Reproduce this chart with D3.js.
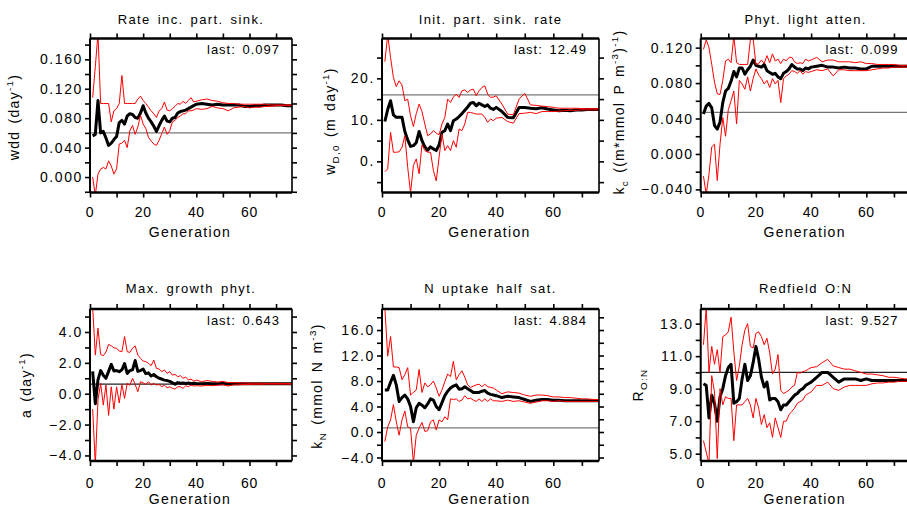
<!DOCTYPE html>
<html>
<head>
<meta charset="utf-8">
<script src="https://cdn.jsdelivr.net/npm/d3@7"></script>
<style>
  body { margin: 0; background: #fff; }
  svg text { font-family: "Liberation Sans", Arial, sans-serif; fill: #000; }
  .title { font-size: 13px; letter-spacing: 1.4px; word-spacing: 2px; }
  .tick-label { font-size: 14px; letter-spacing: 1.6px; }
  .x-label { font-size: 14px; letter-spacing: 0.6px; }
  .axis-title { font-size: 14px; letter-spacing: 1.3px; word-spacing: 2px; }
  .last { font-size: 13px; letter-spacing: 1px; word-spacing: 2px; }
</style>
</head>
<body>
<svg id="chart" width="907" height="508"></svg>
<script>
// Generations (every generation early on, every other later)
const generations = [1,2,3,4,5,6,7,8,9,10,11,12,13,14,15,16,17,18,19,20,
  21,22,23,24,25,26,27,28,29,30,31,32,33,34,35,36,37,38,39,40,
  42,44,46,48,50,52,54,56,58,60,62,64,66,68,70,72,74,76];

const titles = ["Rate inc. part. sink.", "Init. part. sink. rate", "Phyt. light atten.",
                "Max. growth phyt.", "N uptake half sat.", "Redfield O:N"];
const lastValues = ["0.097", "12.49", "0.099", "0.643", "4.884", "9.527"];
const referenceValues = [0.06, 16.0, 0.047, 0.62, 0.65, 10.0];

// Rate inc. part. sink.
const rateMean = [0.056,0.058,0.104,0.060,0.062,0.053,0.043,0.046,0.051,0.055,
  0.074,0.077,0.072,0.083,0.086,0.085,0.081,0.080,0.087,0.097,
  0.087,0.080,0.075,0.069,0.062,0.070,0.077,0.083,0.076,0.075,
  0.080,0.081,0.087,0.089,0.090,0.091,0.093,0.095,0.097,0.099,
  0.100,0.099,0.098,0.099,0.098,0.098,0.098,0.098,0.096,0.096,0.097,0.097,0.098,0.098,0.098,0.098,0.097,0.097];
const rateUpper = [0.108,0.150,0.195,0.100,0.100,0.100,0.100,0.075,0.090,0.093,
  0.100,0.138,0.100,0.100,0.100,0.100,0.100,0.106,0.110,0.104,
  0.100,0.095,0.090,0.086,0.081,0.090,0.093,0.102,0.091,0.090,
  0.093,0.096,0.100,0.099,0.103,0.100,0.104,0.108,0.102,0.103,
  0.105,0.106,0.104,0.103,0.101,0.100,0.100,0.099,0.099,0.099,0.099,0.099,0.099,0.098,0.098,0.098,0.098,0.098];
const rateLower = [0.000,-0.025,0.004,0.011,0.013,0.011,0.022,0.015,0.004,0.011,
  0.045,0.046,0.050,0.040,0.063,0.070,0.058,0.068,0.084,0.072,
  0.066,0.054,0.049,0.045,0.043,0.050,0.059,0.068,0.058,0.063,
  0.075,0.077,0.081,0.083,0.086,0.086,0.090,0.090,0.091,0.093,
  0.092,0.093,0.096,0.094,0.093,0.090,0.094,0.095,0.096,0.094,0.095,0.095,0.096,0.096,0.097,0.097,0.097,0.097];

// Init. part. sink. rate
const sinkMean = [9.6,12.5,14.6,11.2,10.6,10.6,10.6,7.2,5.2,3.6,
  3.8,4.5,7.2,5.0,3.5,2.7,3.5,3.0,2.6,4.0,
  7.0,7.4,9.0,7.4,9.8,10.2,10.8,11.5,12.3,13.1,
  14.0,14.2,13.4,14.0,13.6,13.2,13.6,12.8,12.5,13.0,
  12.0,10.6,10.5,13.0,13.0,12.8,12.7,12.9,12.6,12.4,12.2,12.3,12.2,12.4,12.4,12.5,12.5,12.5];
const sinkUpper = [24.0,30.5,25.0,20.2,18.0,19.4,18.4,14.6,15.0,11.0,
  8.4,11.5,13.8,12.0,9.0,6.2,6.6,7.4,6.8,6.4,
  9.0,10.6,15.0,14.2,15.5,16.2,15.4,17.0,17.2,16.6,
  17.2,17.4,15.8,17.0,17.8,18.2,16.2,15.4,15.5,15.8,
  13.8,11.4,11.2,15.0,16.4,13.6,13.5,13.3,13.2,13.0,12.8,12.8,12.8,12.8,12.7,12.7,12.7,12.7];
const sinkLower = [-2.5,-1.8,7.0,2.2,2.2,2.3,3.4,6.2,-1.4,-7.6,
  -1.0,0.6,-3.0,4.0,2.6,2.2,2.2,-2.2,-4.7,1.0,
  6.6,2.6,3.8,2.6,5.0,3.4,7.8,7.4,9.0,11.8,
  11.8,11.6,11.4,11.4,11.4,10.6,9.4,10.2,9.8,10.4,
  10.6,9.6,9.2,11.5,11.6,11.8,11.5,12.0,12.0,12.0,12.1,12.2,12.3,12.3,12.4,12.4,12.4,12.4];

// Phyt. light atten.
const attenMean = [0.045,0.054,0.057,0.052,0.032,0.028,0.036,0.058,0.071,0.074,
  0.082,0.093,0.087,0.097,0.097,0.090,0.095,0.099,0.106,0.100,
  0.099,0.098,0.101,0.094,0.092,0.090,0.091,0.087,0.085,0.091,
  0.093,0.096,0.101,0.098,0.096,0.096,0.094,0.097,0.096,0.098,
  0.099,0.100,0.098,0.098,0.097,0.098,0.097,0.097,0.096,0.096,0.099,0.099,0.099,0.099,0.099,0.099,0.099,0.099];
const attenUpper = [0.118,0.129,0.120,0.101,0.081,0.068,0.067,0.083,0.105,0.107,
  0.103,0.133,0.103,0.101,0.101,0.101,0.101,0.129,0.130,0.101,
  0.102,0.106,0.102,0.111,0.103,0.113,0.105,0.107,0.102,0.107,
  0.105,0.109,0.109,0.104,0.102,0.103,0.102,0.107,0.105,0.106,
  0.109,0.104,0.106,0.106,0.104,0.104,0.104,0.103,0.104,0.102,0.102,0.101,0.101,0.101,0.101,0.100,0.100,0.100];
const attenLower = [-0.025,-0.046,-0.023,0.008,0.011,-0.030,0.011,0.041,0.020,0.050,
  0.060,0.071,0.034,0.083,0.079,0.073,0.087,0.071,0.085,0.096,
  0.089,0.085,0.079,0.083,0.075,0.085,0.079,0.083,0.058,0.085,
  0.088,0.090,0.094,0.093,0.091,0.094,0.090,0.093,0.092,0.093,
  0.095,0.094,0.096,0.088,0.095,0.095,0.094,0.094,0.094,0.094,0.095,0.096,0.097,0.097,0.098,0.098,0.098,0.098];

// Max. growth phyt.
const growthMean = [1.45,-0.65,0.90,1.50,1.20,1.00,1.45,1.90,1.47,1.50,
  1.43,1.55,1.95,1.32,1.50,1.55,2.15,1.45,1.50,1.60,
  1.30,1.35,1.15,1.25,1.10,1.00,0.95,0.88,0.85,0.80,
  0.70,0.62,0.72,0.68,0.70,0.66,0.70,0.65,0.68,0.66,
  0.64,0.66,0.65,0.64,0.66,0.63,0.64,0.64,0.64,0.64,0.64,0.64,0.64,0.64,0.64,0.64,0.64,0.64];
const growthUpper = [5.6,2.5,4.25,2.55,2.46,2.70,3.20,3.10,2.98,2.94,
  2.77,2.72,3.70,2.72,2.68,2.94,3.10,2.51,2.29,2.12,
  2.08,1.97,1.82,2.18,1.64,1.60,1.43,1.54,1.32,1.43,
  1.21,1.25,1.10,1.17,1.00,1.08,0.89,0.95,0.82,0.88,
  0.78,0.85,0.80,0.76,0.80,0.72,0.72,0.70,0.70,0.68,0.68,0.68,0.67,0.67,0.67,0.66,0.66,0.66];
const growthLower = [-1.0,-4.6,-0.40,0.67,-0.74,0.56,-1.40,0.45,-1.00,0.45,
  -0.60,0.60,-0.30,0.67,0.55,1.00,0.60,0.13,0.78,0.70,
  0.60,0.78,0.56,0.67,0.56,0.60,0.45,0.56,0.39,0.45,
  0.35,0.30,0.45,0.45,0.35,0.52,0.45,0.56,0.50,0.52,
  0.50,0.55,0.52,0.55,0.58,0.50,0.57,0.58,0.60,0.60,0.61,0.61,0.62,0.62,0.62,0.62,0.62,0.62];

// N uptake half sat.
const halfSatMean = [6.6,6.6,7.8,8.9,7.4,4.8,5.4,5.8,5.2,4.0,
  1.6,3.8,4.5,4.2,3.8,4.4,5.2,5.0,4.0,3.5,
  4.6,5.7,6.4,6.9,7.2,7.4,6.7,6.8,7.1,6.8,
  6.5,6.2,6.2,6.2,6.4,6.5,6.1,5.9,5.8,5.7,
  5.4,5.6,5.5,5.4,5.1,4.8,5.0,5.1,5.1,5.0,5.0,4.9,4.9,4.9,4.9,4.9,4.9,4.9];
const halfSatUpper = [19.5,11.9,15.0,10.2,10.2,10.1,8.2,9.0,10.1,5.8,
  6.2,6.6,9.8,6.2,7.7,7.1,7.4,8.0,6.9,5.6,
  6.6,7.9,9.1,8.7,11.1,8.2,9.0,9.6,8.6,7.4,
  7.0,7.2,7.4,7.5,7.1,7.5,7.1,7.0,6.9,6.6,
  6.0,6.3,6.2,6.1,5.8,5.6,5.8,5.8,5.7,5.5,5.5,5.4,5.4,5.3,5.2,5.2,5.1,5.1];
const halfSatLower = [-1.5,0.8,1.9,4.3,1.6,-0.5,1.9,3.3,0.8,0.6,
  -4.8,-0.5,0.6,1.5,0.1,0.2,1.6,1.9,0.3,1.9,
  1.6,2.4,1.9,5.2,5.1,5.2,4.8,5.0,5.7,5.2,
  5.3,5.0,4.8,5.2,4.8,5.2,4.8,5.2,4.9,4.9,
  4.8,5.0,4.8,4.9,4.7,4.5,4.7,4.9,4.9,4.8,4.9,4.8,4.8,4.8,4.8,4.8,4.8,4.8];

// Redfield O:N
const redfieldMean = [9.3,9.2,7.2,8.6,8.1,7.0,8.5,9.0,9.8,10.3,
  10.5,8.1,8.2,8.4,9.6,10.5,9.5,9.8,10.6,11.6,
  10.8,9.7,9.1,9.4,8.3,8.4,8.4,8.2,7.7,8.0,
  8.0,8.2,8.4,8.6,8.7,8.9,9.0,9.2,9.3,9.4,
  9.7,10.0,10.0,9.7,9.4,9.6,9.6,9.6,9.5,9.6,9.5,9.5,9.5,9.5,9.5,9.5,9.5,9.53];
const redfieldUpper = [11.7,14.0,10.0,11.6,10.5,11.4,10.0,12.2,12.3,12.5,
  13.4,11.3,9.5,10.4,11.7,12.6,13.0,11.6,11.5,12.4,
  12.5,12.2,11.7,12.1,11.2,9.9,10.2,11.1,8.9,8.7,
  8.8,8.9,9.1,9.2,10.0,9.95,10.05,10.1,10.2,10.3,
  10.35,10.6,10.8,10.4,10.3,10.2,10.2,10.1,10.0,9.9,9.9,9.85,9.8,9.7,9.7,9.65,9.6,9.6];
const redfieldLower = [5.8,5.1,4.4,9.8,8.8,4.7,9.0,8.0,8.5,8.4,
  8.4,5.8,8.0,8.0,8.0,8.2,8.4,8.0,7.2,8.4,
  7.8,6.8,7.4,6.6,6.9,6.0,7.2,6.6,6.0,7.0,
  7.0,7.4,7.6,7.8,8.1,8.2,8.3,8.6,8.7,8.8,
  9.2,9.2,9.4,9.0,8.9,9.1,9.2,9.2,9.2,9.2,9.3,9.35,9.35,9.4,9.4,9.45,9.45,9.45];

// Axis ranges and labelled ticks
const xDomain = [0, 76];
const xTicks = [0, 10, 20, 30, 40, 50, 60, 70];
const xTickLabels = [0, 20, 40, 60];
const yDomains = [[-0.021, 0.1883], [-7.5, 29.6], [-0.0435, 0.1303],
                  [-4.36, 5.49], [-4.55, 19.3], [4.55, 13.9]];
const yTickLabels = [[0, 0.04, 0.08, 0.12, 0.16], [0, 10, 20], [-0.04, 0, 0.04, 0.08, 0.12],
                     [-4, -2, 0, 2, 4], [-4, 0, 4, 8, 12, 16], [5, 7, 9, 11, 13]];
const yMinorSteps = [0.02, 5, 0.02, 1, 2, 1];
const yFormats = [d3.format(".3f"), d => d3.format("d")(d) + ".", d3.format(".3f"),
                  d3.format(".1f"), d3.format(".1f"), d3.format(".1f")];

// Axis titles: [text, "sub" | "sup" | ""]
const yTitles = [
  [["wdd (day", ""], ["-1", "sup"], [")", ""]],
  [["w", ""], ["D,0", "sub"], [" (m day", ""], ["-1", "sup"], [")", ""]],
  [["k", ""], ["c", "sub"], [" ((m*mmol P m", ""], ["-3", "sup"], [")", ""], ["-1", "sup"], [")", ""]],
  [["a (day", ""], ["-1", "sup"], [")", ""]],
  [["k", ""], ["N", "sub"], [" (mmol N m", ""], ["-3", "sup"], [")", ""]],
  [["R", ""], ["O:N", "sub"]]
];

const means = [rateMean, sinkMean, attenMean, growthMean, halfSatMean, redfieldMean];
const uppers = [rateUpper, sinkUpper, attenUpper, growthUpper, halfSatUpper, redfieldUpper];
const lowers = [rateLower, sinkLower, attenLower, growthLower, halfSatLower, redfieldLower];

// Layout (pixels)
const columns = [{ x0: 90, x1: 292 }, { x0: 382, x1: 599 }, { x0: 700.7, x1: 910.5 }];
const rows = [{ y0: 38.5, y1: 192.5, tickBase: 217, genBase: 237, titleBase: 23.5 },
              { y0: 309, y1: 461, tickBase: 488, genBase: 504, titleBase: 293 }];
const yTitlePos = [{ x: 18.5, y: 117 }, { x: 335, y: 121 }, { x: 624, y: 112 },
                   { x: 31, y: 385 }, { x: 322, y: 386 }, { x: 643, y: 385 }];
const refColors = ["#777", "#777", "#777", "#222", "#777", "#222"];

const svg = d3.select("#chart");

function richText(sel, parts, size) {
  let shift = 0;
  parts.forEach(([txt, kind]) => {
    const target = kind === "sup" ? -0.42 * size : kind === "sub" ? 0.3 * size : 0;
    sel.append("tspan")
      .attr("dy", target - shift)
      .style("font-size", (kind ? size * 0.7 : size) + "px")
      .text(txt);
    shift = target;
  });
}

titles.forEach((title, i) => {
  const col = columns[i % 3];
  const row = rows[Math.floor(i / 3)];
  const w = col.x1 - col.x0;
  const h = row.y1 - row.y0;

  const x = d3.scaleLinear().domain(xDomain).range([0, w]);
  const y = d3.scaleLinear().domain(yDomains[i]).range([h, 0]);

  const g = svg.append("g").attr("transform", `translate(${col.x0},${row.y0})`);

  // clip for the data lines
  g.append("clipPath").attr("id", "clip" + i)
    .append("rect").attr("width", w).attr("height", h);

  // light frame behind the heavy axis lines
  g.append("rect")
    .attr("width", w).attr("height", h)
    .attr("fill", "none").attr("stroke", "#888").attr("stroke-width", 1);

  // tick marks on all four sides
  const [lo, hi] = yDomains[i];
  const step = yMinorSteps[i];
  const yTicks = d3.range(Math.ceil(lo / step - 1e-6), Math.floor(hi / step + 1e-6) + 1)
    .map(k => +(k * step).toFixed(6));

  const tickStyle = sel => {
    sel.select(".domain").remove();
    sel.selectAll(".tick line").attr("stroke", "#000").attr("stroke-width", 1.6);
    sel.selectAll(".tick text").remove();
  };

  g.append("g").call(d3.axisLeft(y).tickValues(yTicks).tickSize(5)).call(tickStyle);
  g.append("g").attr("transform", `translate(${w},0)`)
    .call(d3.axisRight(y).tickValues(yTicks).tickSize(5)).call(tickStyle);
  g.append("g").call(d3.axisTop(x).tickValues(xTicks).tickSize(5)).call(tickStyle);
  g.append("g").attr("transform", `translate(0,${h})`)
    .call(d3.axisBottom(x).tickValues(xTicks).tickSize(5)).call(tickStyle);

  // y tick labels
  g.selectAll(".ylab").data(yTickLabels[i]).join("text")
    .attr("class", "tick-label")
    .attr("x", -7)
    .attr("y", d => y(d))
    .attr("dy", "0.36em")
    .attr("text-anchor", "end")
    .text(d => yFormats[i](d));

  // x tick labels
  g.selectAll(".xlab").data(xTickLabels).join("text")
    .attr("class", "x-label")
    .attr("x", d => x(d))
    .attr("y", row.tickBase - row.y0)
    .attr("text-anchor", "middle")
    .text(d => d);

  // reference level
  g.append("line")
    .attr("x1", 0).attr("x2", w)
    .attr("y1", y(referenceValues[i])).attr("y2", y(referenceValues[i]))
    .attr("stroke", refColors[i]).attr("stroke-width", 1.2);

  const line = (vals) => d3.line()
    .x((d, k) => x(generations[k]))
    .y(d => y(d))(vals);

  const plot = g.append("g").attr("clip-path", `url(#clip${i})`);
  plot.append("path").attr("d", line(means[i]))
    .attr("fill", "none").attr("stroke", "#000").attr("stroke-width", 3)
    .attr("stroke-linejoin", "round");
  [uppers[i], lowers[i]].forEach(vals => {
    plot.append("path").attr("d", line(vals))
      .attr("fill", "none").attr("stroke", "#ff0000").attr("stroke-width", 1);
  });

  // heavy axis lines
  g.append("line").attr("x1", 0).attr("x2", w).attr("y1", 0).attr("y2", 0)
    .attr("stroke", "#000").attr("stroke-width", 2.5);
  g.append("line").attr("x1", 0).attr("x2", w).attr("y1", h).attr("y2", h)
    .attr("stroke", "#000").attr("stroke-width", 2.5);
  g.append("line").attr("x1", 0).attr("x2", 0).attr("y1", 0).attr("y2", h)
    .attr("stroke", "#000").attr("stroke-width", 2);
  g.append("line").attr("x1", w).attr("x2", w).attr("y1", 0).attr("y2", h)
    .attr("stroke", "#000").attr("stroke-width", 1.5);

  // panel title
  svg.append("text")
    .attr("class", "title")
    .attr("x", (col.x0 + Math.min(col.x1, col.x0 + x(76))) / 2)
    .attr("y", row.titleBase)
    .attr("text-anchor", "middle")
    .text(title);

  // last value note
  g.append("text")
    .attr("class", "last")
    .attr("x", w - 12)
    .attr("y", 15.5)
    .attr("text-anchor", "end")
    .text("last: " + lastValues[i]);

  // x axis title
  svg.append("text")
    .attr("class", "axis-title")
    .attr("x", col.x0 + 0.5 * x(76) - 1)
    .attr("y", row.genBase)
    .attr("text-anchor", "middle")
    .text("Generation");

  // y axis title
  const yt = svg.append("text")
    .attr("class", "axis-title")
    .attr("transform", `translate(${yTitlePos[i].x},${yTitlePos[i].y}) rotate(-90)`)
    .attr("text-anchor", "middle");
  richText(yt, yTitles[i], 14);
});
</script>
</body>
</html>
